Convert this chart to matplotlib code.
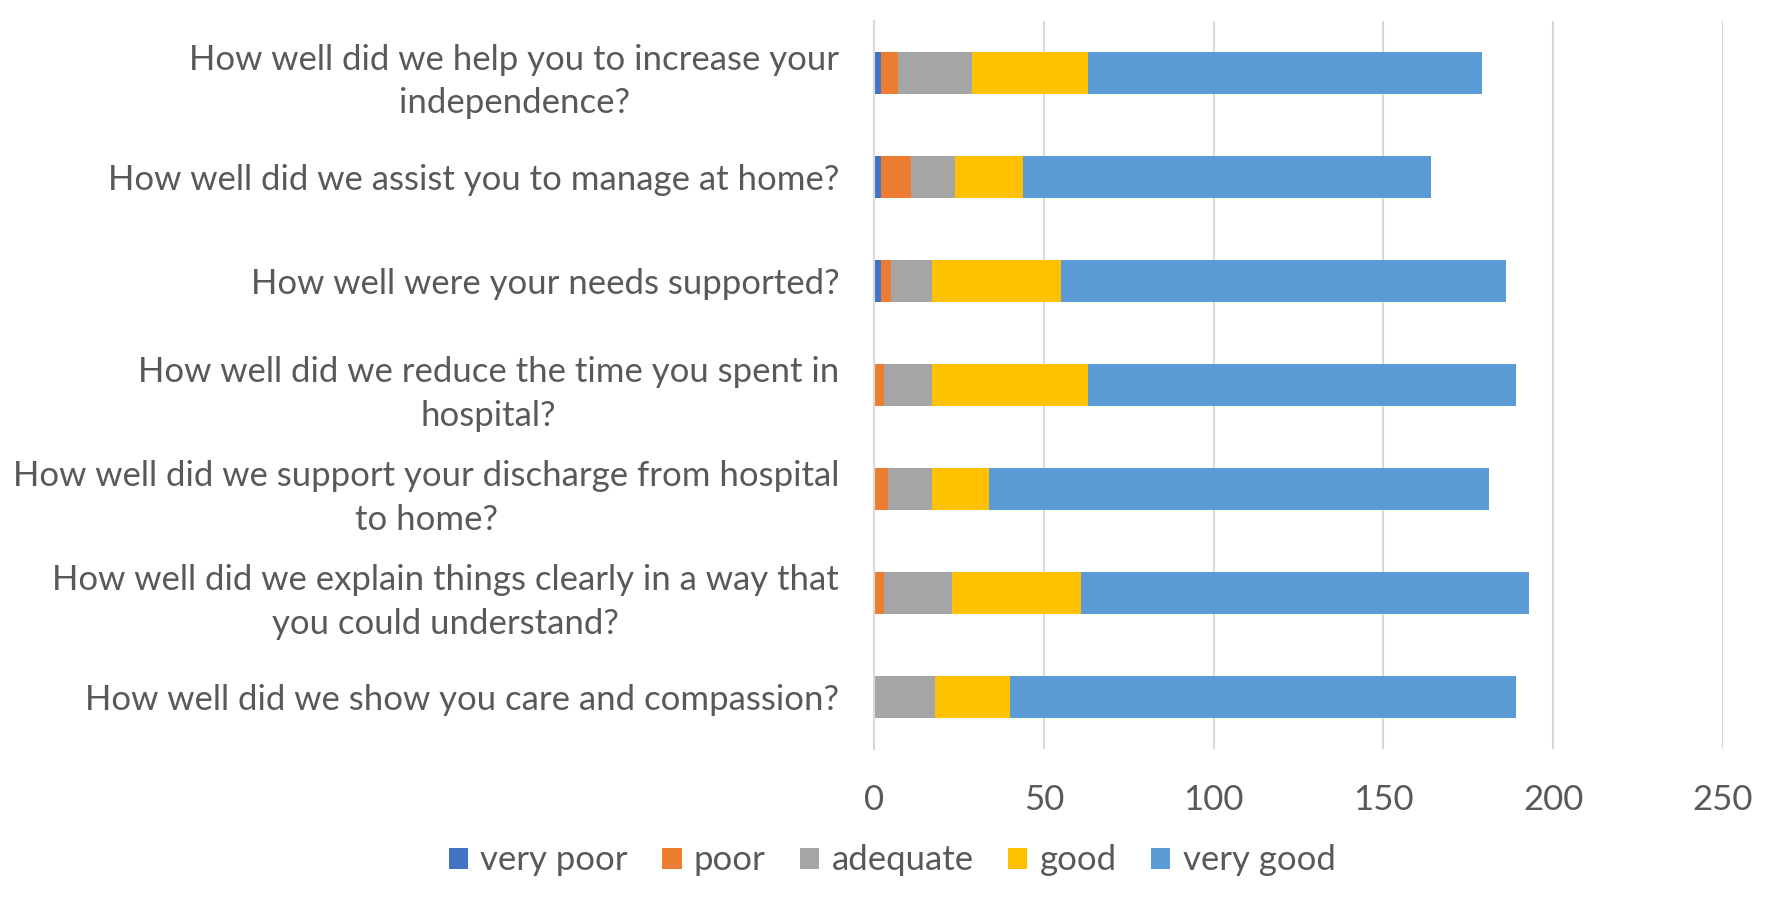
import numpy as np
import matplotlib
matplotlib.use('Agg')
from matplotlib import pyplot as plt

# Survey questions (top to bottom as shown)
questions = [
    'How well did we help you to increase your\nindependence?',
    'How well did we assist you to manage at home?',
    'How well were your needs supported?',
    'How well did we reduce the time you spent in\nhospital?',
    'How well did we support your discharge from hospital\nto home?',
    'How well did we explain things clearly in a way that\nyou could understand?',
    'How well did we show you care and compassion?',
]

very_poor = [2, 2, 2, 0, 0, 0, 0]
poor = [5, 9, 3, 3, 4, 3, 0]
adequate = [22, 13, 12, 14, 13, 20, 18]
good = [34, 20, 38, 46, 17, 38, 22]
very_good = [116, 120, 131, 126, 147, 132, 149]

series_names = ['very poor', 'poor', 'adequate', 'good', 'very good']
series_colors = ['#4472C4', '#ED7D31', '#A5A5A5', '#FFC000', '#5B9BD5']

text_color = '#595959'
plt.rcParams['font.family'] = ['Lato', 'DejaVu Sans']

fig = plt.figure(figsize=(17.72, 8.99), dpi=100)
ax = fig.add_axes([0.4932, 0.1668, 0.4792, 0.8101])

y = np.arange(len(questions))
left = np.zeros(len(questions))
for name, color, vals in zip(series_names, series_colors,
                             [very_poor, poor, adequate, good, very_good]):
    vals = np.array(vals, dtype=float)
    ax.barh(y, vals, left=left, height=0.4, color=color, label=name, linewidth=0)
    left += vals

ax.set_xlim(0, 250)
ax.set_ylim(len(questions) - 0.5, -0.5)
ax.set_xticks(np.arange(0, 251, 50))
ax.set_yticks(y)
ax.set_yticklabels(questions)
for lab in ax.get_yticklabels():
    lab.set_multialignment('center')
    lab.set_linespacing(1.45)

ax.tick_params(axis='both', length=0, labelsize=25, colors=text_color)
ax.tick_params(axis='x', pad=25)
ax.tick_params(axis='y', pad=25)

ax.grid(axis='x', color='#D9D9D9', linewidth=1.5)
ax.set_axisbelow(True)
for side in ['top', 'right', 'bottom']:
    ax.spines[side].set_visible(False)
ax.spines['left'].set_color('#D9D9D9')
ax.spines['left'].set_linewidth(1.5)

handles, labels = ax.get_legend_handles_labels()
leg = fig.legend(handles, labels, loc='center', bbox_to_anchor=(0.5035, 0.043),
                 ncol=5, frameon=False, fontsize=25, handlelength=0.55,
                 handleheight=0.55, handletextpad=0.35, columnspacing=1.0)
for t in leg.get_texts():
    t.set_color(text_color)

fig.savefig('out.png', dpi=100)
